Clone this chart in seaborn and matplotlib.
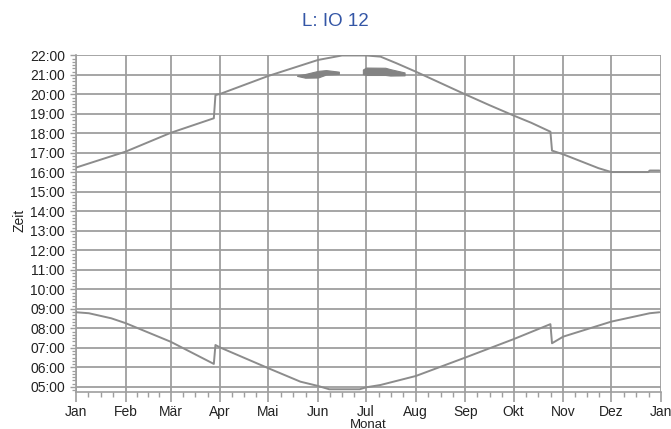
import matplotlib
matplotlib.use("Agg")
import matplotlib.pyplot as plt
import numpy as np
import pandas as pd
import seaborn as sns

# ---------------- data ----------------
title_text = "L: IO 12"
x_label = "Monat"
y_label = "Zeit"

month_labels = ["Jan", "Feb", "Mär", "Apr", "Mai", "Jun", "Jul", "Aug", "Sep", "Okt", "Nov", "Dez", "Jan"]
month_start_days = [0, 31, 59, 90, 120, 151, 181, 212, 243, 273, 304, 334, 365]

hour_ticks = list(range(5, 23))
hour_labels = [f"{h:02d}:00" for h in hour_ticks]

# sunrise (lower curve): day of year, time in hours
sunrise_days = [0, 8, 22, 31, 59, 86, 87, 90, 120, 140, 151, 158, 177, 181, 190, 212, 243, 273, 296, 297, 304, 334, 358, 364]
sunrise_hours = [8.83, 8.78, 8.52, 8.27, 7.32, 6.18, 7.15, 7.02, 5.96, 5.27, 5.05, 4.88, 4.88, 4.98, 5.10, 5.56, 6.51, 7.45, 8.22, 7.24, 7.58, 8.35, 8.78, 8.83]

# sunset (upper curve)
sunset_days = [0, 31, 59, 86, 87, 90, 120, 151, 166, 181, 190, 200, 212, 225, 243, 258, 273, 284, 296, 297, 304, 326, 334, 357, 358, 364]
sunset_hours = [16.25, 17.07, 18.03, 18.78, 19.97, 20.03, 20.95, 21.77, 22.0, 22.0, 21.94, 21.60, 21.17, 20.68, 20.00, 19.45, 18.92, 18.55, 18.09, 17.12, 16.93, 16.22, 16.02, 16.02, 16.10, 16.10]

# two short bands of events just after 21:00 (lower / upper edge)
band1_days = [138, 143, 151, 156, 164]
band1_low = [20.95, 20.86, 20.87, 21.02, 21.05]
band1_high = [20.98, 21.05, 21.21, 21.25, 21.17]
band2_days = [179, 181, 193, 196, 205]
band2_low = [21.05, 21.00, 21.00, 20.97, 20.98]
band2_high = [21.28, 21.38, 21.37, 21.30, 21.13]

# ---------------- style ----------------
sns.set_style("white")
plt.rcParams["font.family"] = ["Liberation Sans", "DejaVu Sans"]

grid_color = "#9e9e9e"
line_color = "#8c8c8c"
band_color = "#838383"
text_color = "#222222"

fig = plt.figure(figsize=(6.71, 4.29), dpi=100)
ax = fig.add_axes([76 / 671, 1 - 392 / 429, (661 - 76) / 671, (392 - 54.5) / 429])

df_rise = pd.DataFrame({"day": sunrise_days, "hour": sunrise_hours})
df_set = pd.DataFrame({"day": sunset_days, "hour": sunset_hours})

sns.lineplot(data=df_rise, x="day", y="hour", ax=ax, color=line_color, lw=1.4, estimator=None, sort=False, zorder=3)
sns.lineplot(data=df_set, x="day", y="hour", ax=ax, color=line_color, lw=1.4, estimator=None, sort=False, zorder=3)

ax.fill_between(band1_days, band1_low, band1_high, color=band_color, lw=0.8, edgecolor=band_color, zorder=3)
ax.fill_between(band2_days, band2_low, band2_high, color=band_color, lw=0.8, edgecolor=band_color, zorder=3)

ax.set_xlim(0, 365)
ax.set_ylim(4.74, 22.05)

ax.set_xticks(month_start_days)
ax.set_xticklabels(month_labels)
minor_x = []
for a, b in zip(month_start_days[:-1], month_start_days[1:]):
    minor_x += [a + (b - a) * k / 4 for k in (1, 2, 3)]
ax.set_xticks(minor_x, minor=True)

ax.set_yticks(hour_ticks)
ax.set_yticklabels(hour_labels)
minor_y = [h + m / 60 for h in range(4, 23) for m in (10, 20, 30, 40, 50)]
minor_y = [v for v in minor_y if 4.74 <= v <= 22.0]
ax.set_yticks(minor_y, minor=True)

ax.grid(True, which="major", color=grid_color, lw=1.3)
ax.set_axisbelow(True)

for s in ["top", "right"]:
    ax.spines[s].set_visible(False)
for s in ["left", "bottom"]:
    ax.spines[s].set_color(grid_color)
    ax.spines[s].set_linewidth(1.2)

ax.tick_params(axis="x", which="major", direction="out", length=7, width=1.2, color=grid_color,
               labelsize=10, labelcolor=text_color, pad=2.5, bottom=True)
ax.tick_params(axis="x", which="minor", direction="out", length=3.5, width=1.0, color=grid_color, bottom=True)
ax.tick_params(axis="y", which="major", direction="out", length=4, width=1.0, color=grid_color,
               labelsize=10, labelcolor=text_color, pad=4, left=True)
ax.tick_params(axis="y", which="minor", direction="out", length=3, width=0.9, color=grid_color, left=True)

ax.set_xlabel("")
ax.set_ylabel("")
fig.text(19 / 671, 1 - 220 / 429, y_label, rotation=90, ha="center", va="center", fontsize=10, color=text_color)
fig.text(368 / 671, 1 - 428 / 429, x_label, ha="center", va="baseline", fontsize=9.5, color=text_color)
fig.text(0.5, 1 - 21 / 429, title_text, ha="center", va="center", fontsize=13.5, color="#3456a6")

fig.savefig("out.png", dpi=100)
